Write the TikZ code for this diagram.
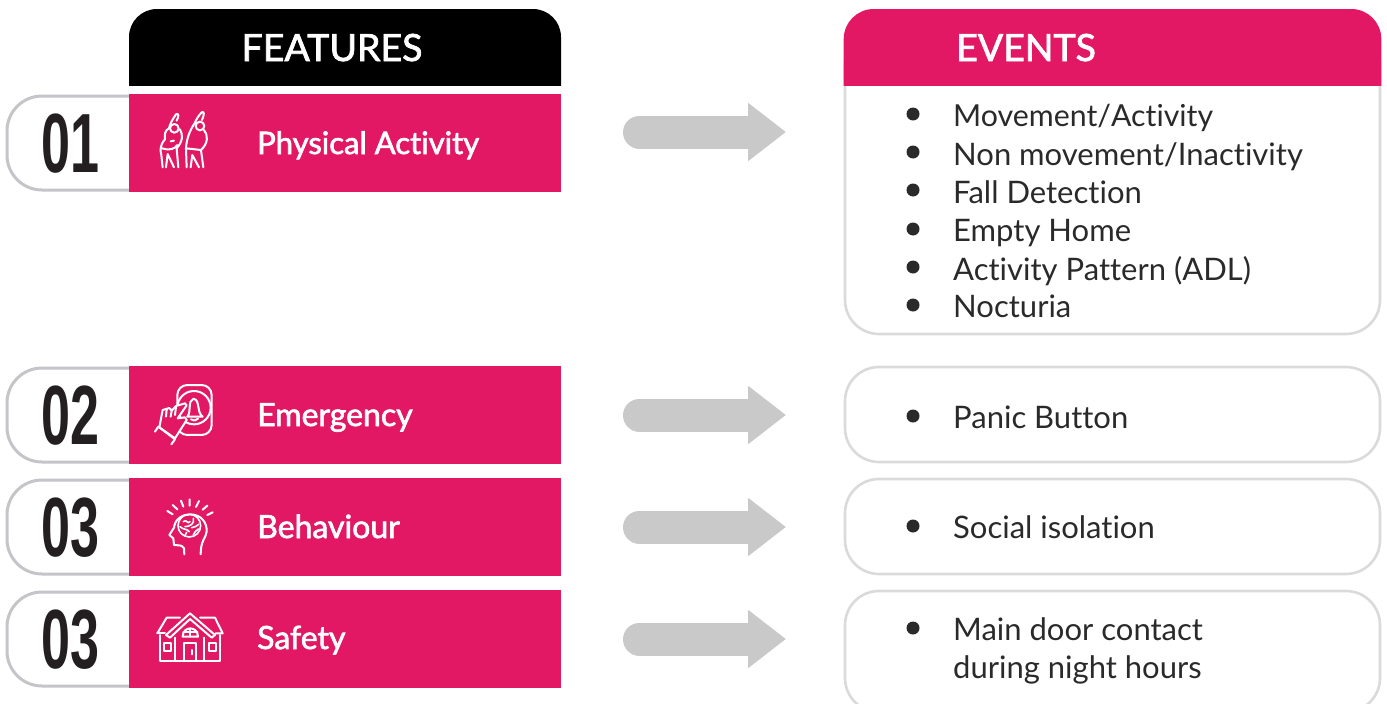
\documentclass[tikz,border=0pt]{standalone}
\usepackage{fontspec}
\setmainfont[Ligatures=NoCommon]{Lato}
\newfontfamily\medfont[FakeBold=2,Ligatures=NoCommon]{Lato}
\newfontfamily\numfont[FakeStretch=0.62]{Liberation Sans Bold}
\usetikzlibrary{arrows.meta}
\definecolor{pinkc}{HTML}{E31865}
\definecolor{tabline}{HTML}{C4C5C8}
\definecolor{boxline}{HTML}{DADADA}
\definecolor{arrowc}{HTML}{C9C9C9}
\definecolor{inkc}{HTML}{2B2A2B}
\definecolor{numc}{HTML}{231F20}
\tikzset{
  featbar/.style={fill=pinkc,minimum width=432pt,minimum height=98pt,anchor=north west,inner sep=0pt},
  tabline/.style={draw=tabline,line width=3pt,fill=white,rounded corners=35pt},
  evbox/.style={draw=boxline,line width=2.6pt,fill=white,rounded corners=34pt},
  numtxt/.style={anchor=base west,inner sep=0pt,text=numc,font=\numfont\fontsize{84}{84}\selectfont},
  feattxt/.style={anchor=base west,inner sep=0pt,text=white,font=\medfont\fontsize{32}{36}\selectfont},
  headtxt/.style={anchor=base,inner sep=0pt,text=white,font=\medfont\fontsize{37.5}{40}\selectfont},
  evtxt/.style={anchor=base west,inner sep=0pt,text=inkc,font=\fontsize{31}{38}\selectfont},
  bulletdot/.style={circle,fill=inkc,minimum size=13pt,inner sep=0pt},
  blockarrow/.style={draw=arrowc,line width=33pt,line cap=round,-{Triangle[length=38pt,width=56pt]}},
  icon/.style={draw=white,line width=2pt,line cap=round,line join=round},
  iconscope/.style={shift={#1},scale=0.3333},
}
\begin{document}
\begin{tikzpicture}[x=1pt,y=-1pt]
\clip (0,0) rectangle (1387,704);
% left tabs
\foreach \y in {96,368,480,592}
  \draw[tabline] (140,\y) -- (7,\y) -- (7,\y+94) -- (140,\y+94);
% features header
\begin{scope}
\clip (0,0) rectangle (1387,85);
\fill[black,rounded corners=28pt] (129,130) -- (129,9) -- (561,9) -- (561,130) -- cycle;
\end{scope}
\node[headtxt] (fh) at (332,61) {FEATURES};
% feature bars
\node[featbar] (f1) at (129,94) {};
\node[featbar] (f2) at (129,366) {};
\node[featbar] (f3) at (129,478) {};
\node[featbar] (f4) at (129,590) {};
\node[numtxt] (n1) at (41.5,172) {01};
\node[numtxt] (n2) at (41.5,444) {02};
\node[numtxt] (n3) at (41.5,556) {03};
\node[numtxt] (n4) at (41.5,668) {03};
\node[feattxt,font=\medfont\fontsize{31}{36}\selectfont] (t1) at (257,154) {Physical Activity};
\node[feattxt] (t2) at (257,426) {Emergency};
\node[feattxt] (t3) at (257,538) {Behaviour};
\node[feattxt] (t4) at (257,649) {Safety};
% events boxes
\draw[evbox] (845,30) -- (845,334) -- (1380,334) -- (1380,30) -- cycle;
\begin{scope}
\clip (0,0) rectangle (1387,85);
\fill[pinkc,rounded corners=30pt] (843.7,130) -- (843.7,9) -- (1381.3,9) -- (1381.3,130) -- cycle;
\end{scope}
\node[headtxt] (eh) at (1026,61) {EVENTS};
\draw[evbox] (845,367) rectangle (1380,462);
\draw[evbox] (845,479) rectangle (1380,574);
\draw[evbox] (845,591) rectangle (1380,712);
\foreach \n/\y/\t in {b/165/Non movement\slash Inactivity,c/203/Fall Detection,d/241/Empty Home,e/280/Activity Pattern (ADL),f/317/Nocturia,g/428/Panic Button,h/538/Social isolation,i/640/Main door contact,j/678/during night hours}
  \node[evtxt] (ev\n) at (953,\y) {\t};
\node[evtxt,font=\fontsize{30.3}{38}\selectfont] (eva) at (953,126) {Movement\slash Activity};
\foreach \y in {114,152,190,229,267,305,416,526,628}
  \node[bulletdot] (b\y) at (913,\y) {};
% arrows
\foreach \i/\y in {1/132,2/415,3/527,4/639}{
  \coordinate (as\i) at (639.5,\y);
  \coordinate (ae\i) at (786,\y);
  \draw[blockarrow] (as\i) -- (ae\i);
}
% icon 1: stretching figures
\begin{scope}[iconscope={(0,80)}]
\draw[icon] (523,145) circle (13);
\draw[icon] (507,145) .. controls (510,130) and (520,115) .. (528,103) .. controls (536,98) and (538,108) .. (530,122);
\draw[icon] (507,145) .. controls (495,150) and (493,165) .. (495,178) .. controls (480,195) and (480,210) .. (484,225) -- (488,262);
\draw[icon] (486,205) .. controls (505,212) and (525,208) .. (532,195) (522,182) -- (512,184);
\draw[icon] (540,148) .. controls (550,165) and (548,185) .. (530,205) -- (535,262);
\draw[icon] (498,262) -- (503,222) -- (522,262);
\draw[icon] (600,138) circle (13);
\draw[icon] (585,128) .. controls (590,115) and (598,105) .. (605,97) .. controls (613,93) and (614,102) .. (606,120);
\draw[icon] (585,128) .. controls (570,150) and (560,175) .. (558,205) -- (560,262);
\draw[icon] (612,150) .. controls (625,165) and (625,190) .. (603,210) -- (610,262);
\draw[icon] (572,262) -- (577,225) -- (597,262);
\draw[icon] (558,205) -- (603,210);
\end{scope}
% icon 2: hand and bell
\begin{scope}[iconscope={(130,370)}]
\draw[icon,rounded corners=10pt] (142,45) rectangle (245,195);
\draw[icon] (192,113) circle (50);
\draw[icon] (172,140) .. controls (185,125) and (172,92) .. (191,86) .. controls (212,92) and (198,125) .. (218,140) -- cycle;
\draw[icon] (183,148) .. controls (190,153) and (198,153) .. (204,146);
\draw[icon,fill=pinkc] (88,172) -- (98,120) -- (118,114) -- (125,122) -- (138,108) -- (165,100) -- (170,106) -- (143,145) -- (165,142) -- (170,150) -- (135,205) -- cycle;
\draw[icon] (110,118) -- (108,140) (125,122) -- (122,140) (138,110) -- (135,135);
\draw[icon] (75,185) -- (85,170) -- (135,208) -- (124,223);
\end{scope}
% icon 3: head with brain
\begin{scope}[iconscope={(130,485)}]
\draw[icon] (112,78) -- (128,88) (128,60) -- (142,73) (153,47) -- (160,65) (179,43) -- (179,62) (207,48) -- (198,66) (232,62) -- (218,74) (248,82) -- (232,90);
\draw[icon] (163,208) -- (162,190) .. controls (155,178) and (145,182) .. (132,180) -- (130,160) -- (118,150) -- (132,128) .. controls (135,100) and (160,88) .. (180,88) .. controls (215,88) and (232,115) .. (230,140) .. controls (228,160) and (212,165) .. (212,208);
\draw[icon,line width=1.6pt] (178,122) circle (34);
\draw[icon,line width=1.6pt] (160,110) .. controls (170,100) and (172,120) .. (180,110) (190,100) .. controls (195,115) and (180,125) .. (165,125) (150,125) .. controls (160,135) and (170,130) .. (178,140) (185,128) .. controls (195,130) and (200,120) .. (206,118) (190,150) .. controls (190,140) and (200,140) .. (205,132) (165,152) -- (170,142);
\end{scope}
% icon 4: house
\begin{scope}[iconscope={(130,595)}]
\draw[icon] (108,120) -- (180,55) -- (255,120) -- (245,128) -- (180,72) -- (120,128) -- cycle;
\draw[icon] (82,115) -- (110,68) -- (150,68) (210,68) -- (255,68) -- (278,115) -- (257,115);
\draw[icon] (82,115) -- (105,115);
\draw[icon] (90,120) -- (90,198) -- (270,198) -- (270,120);
\draw[icon] (135,128) -- (135,198) (222,128) -- (222,198);
\draw[icon] (163,198) -- (163,145) -- (197,145) -- (197,198);
\draw[icon] (186,165) -- (186,178);
\draw[icon] (103,145) rectangle (123,168);
\draw[icon] (237,145) rectangle (257,168);
\draw[icon] (158,125) .. controls (158,92) and (204,92) .. (204,125) -- cycle;
\draw[icon] (180,100) -- (180,125) (160,112) -- (202,112);
\end{scope}
\end{tikzpicture}
\end{document}
